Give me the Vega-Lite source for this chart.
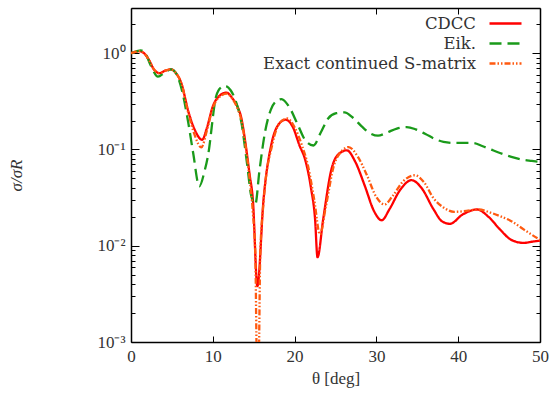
{
  "$schema": "https://vega.github.io/schema/vega-lite/v6.json",
  "width": 409,
  "height": 334,
  "autosize": "none",
  "padding": {"left": 131, "top": 8, "right": 14, "bottom": 51},
  "background": "white",
  "config": {"view": {"stroke": null}},
  "datasets": {
    "curves": [
      {"s":"CDCC","x":0,"y":1.0},{"s":"CDCC","x":0.5,"y":1.03},{"s":"CDCC","x":1,"y":1.05},{"s":"CDCC","x":1.6,"y":1.0},{"s":"CDCC","x":2.2,"y":0.85},{"s":"CDCC","x":2.8,"y":0.68},{"s":"CDCC","x":3.5,"y":0.62},{"s":"CDCC","x":4.2,"y":0.66},{"s":"CDCC","x":4.9,"y":0.68},{"s":"CDCC","x":5.5,"y":0.62},{"s":"CDCC","x":6.15,"y":0.49},{"s":"CDCC","x":7.0,"y":0.25},{"s":"CDCC","x":7.8,"y":0.16},{"s":"CDCC","x":8.7,"y":0.126},{"s":"CDCC","x":9.3,"y":0.17},{"s":"CDCC","x":10.0,"y":0.28},{"s":"CDCC","x":10.8,"y":0.36},{"s":"CDCC","x":11.65,"y":0.39},{"s":"CDCC","x":12.4,"y":0.34},{"s":"CDCC","x":13.0,"y":0.28},{"s":"CDCC","x":13.5,"y":0.21},{"s":"CDCC","x":14.0,"y":0.115},{"s":"CDCC","x":14.5,"y":0.055},{"s":"CDCC","x":14.9,"y":0.03},{"s":"CDCC","x":15.45,"y":0.0038},{"s":"CDCC","x":16.2,"y":0.03},{"s":"CDCC","x":17.2,"y":0.117},{"s":"CDCC","x":18.0,"y":0.18},{"s":"CDCC","x":18.9,"y":0.204},{"s":"CDCC","x":19.8,"y":0.17},{"s":"CDCC","x":20.6,"y":0.11},{"s":"CDCC","x":21.3,"y":0.078},{"s":"CDCC","x":22.0,"y":0.04},{"s":"CDCC","x":22.5,"y":0.019},{"s":"CDCC","x":22.8,"y":0.0076},{"s":"CDCC","x":23.5,"y":0.019},{"s":"CDCC","x":24.5,"y":0.062},{"s":"CDCC","x":25.4,"y":0.09},{"s":"CDCC","x":26.4,"y":0.098},{"s":"CDCC","x":27.4,"y":0.075},{"s":"CDCC","x":28.6,"y":0.0415},{"s":"CDCC","x":29.7,"y":0.023},{"s":"CDCC","x":30.65,"y":0.0184},{"s":"CDCC","x":31.6,"y":0.024},{"s":"CDCC","x":32.9,"y":0.038},{"s":"CDCC","x":34.3,"y":0.048},{"s":"CDCC","x":35.5,"y":0.04},{"s":"CDCC","x":37.0,"y":0.0238},{"s":"CDCC","x":38.0,"y":0.018},{"s":"CDCC","x":39.0,"y":0.0169},{"s":"CDCC","x":40.5,"y":0.021},{"s":"CDCC","x":42.3,"y":0.0238},{"s":"CDCC","x":43.7,"y":0.02},{"s":"CDCC","x":45.1,"y":0.0148},{"s":"CDCC","x":46.5,"y":0.0115},{"s":"CDCC","x":48.0,"y":0.0107},{"s":"CDCC","x":49.0,"y":0.011},{"s":"CDCC","x":50,"y":0.0113},
      {"s":"Eik.","x":0,"y":1.0},{"s":"Eik.","x":0.6,"y":1.04},{"s":"Eik.","x":1.2,"y":1.07},{"s":"Eik.","x":1.8,"y":0.98},{"s":"Eik.","x":2.4,"y":0.75},{"s":"Eik.","x":3.3,"y":0.57},{"s":"Eik.","x":4.1,"y":0.63},{"s":"Eik.","x":4.9,"y":0.68},{"s":"Eik.","x":5.5,"y":0.62},{"s":"Eik.","x":6.2,"y":0.42},{"s":"Eik.","x":7.0,"y":0.19},{"s":"Eik.","x":7.6,"y":0.092},{"s":"Eik.","x":8.35,"y":0.0415},{"s":"Eik.","x":9.0,"y":0.06},{"s":"Eik.","x":9.4,"y":0.085},{"s":"Eik.","x":10.4,"y":0.355},{"s":"Eik.","x":11.0,"y":0.44},{"s":"Eik.","x":11.5,"y":0.458},{"s":"Eik.","x":12.2,"y":0.41},{"s":"Eik.","x":12.8,"y":0.32},{"s":"Eik.","x":13.5,"y":0.19},{"s":"Eik.","x":14.2,"y":0.07},{"s":"Eik.","x":14.7,"y":0.033},{"s":"Eik.","x":15.2,"y":0.027},{"s":"Eik.","x":15.7,"y":0.06},{"s":"Eik.","x":16.4,"y":0.154},{"s":"Eik.","x":17.1,"y":0.26},{"s":"Eik.","x":17.8,"y":0.32},{"s":"Eik.","x":18.4,"y":0.334},{"s":"Eik.","x":19.3,"y":0.28},{"s":"Eik.","x":20.4,"y":0.18},{"s":"Eik.","x":21.3,"y":0.125},{"s":"Eik.","x":22.3,"y":0.11},{"s":"Eik.","x":23.2,"y":0.15},{"s":"Eik.","x":24.1,"y":0.21},{"s":"Eik.","x":25.1,"y":0.238},{"s":"Eik.","x":26.1,"y":0.243},{"s":"Eik.","x":27.1,"y":0.215},{"s":"Eik.","x":28.2,"y":0.174},{"s":"Eik.","x":29.2,"y":0.148},{"s":"Eik.","x":30.2,"y":0.139},{"s":"Eik.","x":31.3,"y":0.15},{"s":"Eik.","x":32.5,"y":0.165},{"s":"Eik.","x":33.7,"y":0.171},{"s":"Eik.","x":34.8,"y":0.162},{"s":"Eik.","x":36.0,"y":0.145},{"s":"Eik.","x":37.2,"y":0.128},{"s":"Eik.","x":38.2,"y":0.12},{"s":"Eik.","x":39.5,"y":0.117},{"s":"Eik.","x":40.5,"y":0.117},{"s":"Eik.","x":41.8,"y":0.117},{"s":"Eik.","x":43.0,"y":0.108},{"s":"Eik.","x":44.0,"y":0.1},{"s":"Eik.","x":45.1,"y":0.092},{"s":"Eik.","x":46.5,"y":0.084},{"s":"Eik.","x":48.0,"y":0.078},{"s":"Eik.","x":49.0,"y":0.076},{"s":"Eik.","x":50,"y":0.074},
      {"s":"Exact continued S-matrix","x":0,"y":1.0},{"s":"Exact continued S-matrix","x":0.5,"y":1.03},{"s":"Exact continued S-matrix","x":1,"y":1.05},{"s":"Exact continued S-matrix","x":1.6,"y":1.0},{"s":"Exact continued S-matrix","x":2.2,"y":0.85},{"s":"Exact continued S-matrix","x":2.8,"y":0.68},{"s":"Exact continued S-matrix","x":3.5,"y":0.62},{"s":"Exact continued S-matrix","x":4.2,"y":0.66},{"s":"Exact continued S-matrix","x":4.9,"y":0.68},{"s":"Exact continued S-matrix","x":5.5,"y":0.62},{"s":"Exact continued S-matrix","x":6.15,"y":0.49},{"s":"Exact continued S-matrix","x":7.0,"y":0.24},{"s":"Exact continued S-matrix","x":7.8,"y":0.14},{"s":"Exact continued S-matrix","x":8.6,"y":0.105},{"s":"Exact continued S-matrix","x":9.3,"y":0.16},{"s":"Exact continued S-matrix","x":10.0,"y":0.27},{"s":"Exact continued S-matrix","x":10.8,"y":0.35},{"s":"Exact continued S-matrix","x":11.7,"y":0.38},{"s":"Exact continued S-matrix","x":12.4,"y":0.335},{"s":"Exact continued S-matrix","x":13.0,"y":0.27},{"s":"Exact continued S-matrix","x":13.5,"y":0.2},{"s":"Exact continued S-matrix","x":14.0,"y":0.11},{"s":"Exact continued S-matrix","x":14.5,"y":0.05},{"s":"Exact continued S-matrix","x":14.9,"y":0.022},{"s":"Exact continued S-matrix","x":15.2,"y":0.008},{"s":"Exact continued S-matrix","x":15.4,"y":0.0006},{"s":"Exact continued S-matrix","x":15.6,"y":0.0006},{"s":"Exact continued S-matrix","x":15.8,"y":0.008},{"s":"Exact continued S-matrix","x":16.2,"y":0.028},{"s":"Exact continued S-matrix","x":17.3,"y":0.115},{"s":"Exact continued S-matrix","x":18.2,"y":0.19},{"s":"Exact continued S-matrix","x":19.1,"y":0.21},{"s":"Exact continued S-matrix","x":20.0,"y":0.17},{"s":"Exact continued S-matrix","x":20.9,"y":0.11},{"s":"Exact continued S-matrix","x":21.6,"y":0.07},{"s":"Exact continued S-matrix","x":22.4,"y":0.03},{"s":"Exact continued S-matrix","x":23.1,"y":0.0131},{"s":"Exact continued S-matrix","x":23.8,"y":0.025},{"s":"Exact continued S-matrix","x":24.8,"y":0.068},{"s":"Exact continued S-matrix","x":25.7,"y":0.095},{"s":"Exact continued S-matrix","x":26.6,"y":0.106},{"s":"Exact continued S-matrix","x":27.7,"y":0.085},{"s":"Exact continued S-matrix","x":28.8,"y":0.055},{"s":"Exact continued S-matrix","x":30.0,"y":0.032},{"s":"Exact continued S-matrix","x":31.0,"y":0.0268},{"s":"Exact continued S-matrix","x":32.0,"y":0.033},{"s":"Exact continued S-matrix","x":33.3,"y":0.047},{"s":"Exact continued S-matrix","x":34.7,"y":0.054},{"s":"Exact continued S-matrix","x":35.8,"y":0.046},{"s":"Exact continued S-matrix","x":37.0,"y":0.031},{"s":"Exact continued S-matrix","x":38.2,"y":0.025},{"s":"Exact continued S-matrix","x":39.5,"y":0.0225},{"s":"Exact continued S-matrix","x":41.0,"y":0.023},{"s":"Exact continued S-matrix","x":42.5,"y":0.0238},{"s":"Exact continued S-matrix","x":44.0,"y":0.022},{"s":"Exact continued S-matrix","x":45.1,"y":0.0203},{"s":"Exact continued S-matrix","x":46.5,"y":0.018},{"s":"Exact continued S-matrix","x":48.0,"y":0.0148},{"s":"Exact continued S-matrix","x":49.0,"y":0.013},{"s":"Exact continued S-matrix","x":50,"y":0.0115}
    ]
  },
  "data": {"name": "curves"},
  "layer": [
    {
      "mark": {"type": "line", "interpolate": "monotone", "clip": true, "strokeWidth": 2.3},
      "encoding": {
        "x": {"field": "x", "type": "quantitative", "scale": {"domain": [0, 50], "nice": false, "zero": false},
          "axis": {"orient": "bottom", "values": [0, 10, 20, 30, 40, 50], "title": "θ [deg]", "grid": false,
            "domainColor": "black", "domainWidth": 1.5, "tickColor": "black", "tickSize": -6, "tickWidth": 1,
            "labelPadding": 12, "labelFlush": false, "labelFont": "Liberation Serif", "labelFontSize": 17, "labelColor": "#333",
            "titleFont": "Liberation Serif", "titleFontSize": 17, "titleFontWeight": "normal", "titleColor": "#333", "titlePadding": 6}},
        "y": {"field": "y", "type": "quantitative", "scale": {"type": "log", "domain": [0.001, 2.95], "nice": false},
          "axis": {"orient": "left", "values": [0.001,0.002,0.003,0.004,0.005,0.006,0.007,0.008,0.009,0.01,0.02,0.03,0.04,0.05,0.06,0.07,0.08,0.09,0.1,0.2,0.3,0.4,0.5,0.6,0.7,0.8,0.9,1,2],
            "labelExpr": "datum.value==1 ? '10⁰' : datum.value==0.1 ? '10⁻¹' : datum.value==0.01 ? '10⁻²' : datum.value==0.001 ? '10⁻³' : ''",
            "title": "σ/σR", "grid": false, "labelOverlap": false, "labelFlush": false,
            "domainColor": "black", "domainWidth": 1.5, "tickColor": "black", "tickWidth": 1,
            "tickSize": {"condition": {"test": "datum.value==1||datum.value==0.1||datum.value==0.01||datum.value==0.001", "value": -8}, "value": -4},
            "labelPadding": 14, "labelFont": "Liberation Serif", "labelFontSize": 17, "labelColor": "#333",
            "titleFont": "Liberation Serif", "titleFontSize": 17, "titleFontWeight": "normal", "titleFontStyle": "italic", "titleColor": "#333", "titlePadding": 71}},
        "color": {"field": "s", "type": "nominal",
          "scale": {"domain": ["CDCC", "Eik.", "Exact continued S-matrix"], "range": ["#ff0000", "#1a9a1a", "#ff5a10"]},
          "legend": {"title": null, "orient": "none", "legendX": 365, "legendY": 6, "padding": 0, "symbolType": "M-2,0L2,0", "symbolSize": 256, "symbolStrokeWidth": 2.3, "symbolFillColor": "transparent",
            "labelAlign": "right", "labelOffset": -39, "labelFont": "DejaVu Serif", "labelFontSize": 16.5, "labelColor": "#333", "rowPadding": 2, "labelLimit": 400}},
        "strokeDash": {"field": "s", "type": "nominal",
          "scale": {"domain": ["CDCC", "Eik.", "Exact continued S-matrix"], "range": [[1, 0], [12, 6], [6, 2, 1.5, 2, 1.5, 2]]},
          "legend": {"title": null, "orient": "none", "legendX": 365, "legendY": 6, "padding": 0, "symbolType": "M-2,0L2,0", "symbolSize": 256, "symbolStrokeWidth": 2.3, "symbolFillColor": "transparent",
            "labelAlign": "right", "labelOffset": -39, "labelFont": "DejaVu Serif", "labelFontSize": 16.5, "labelColor": "#333", "rowPadding": 2, "labelLimit": 400}}
      }
    },
    {
      "mark": {"type": "line", "opacity": 0},
      "encoding": {
        "x": {"field": "x", "type": "quantitative",
          "axis": {"orient": "top", "values": [0, 10, 20, 30, 40, 50], "labels": false, "title": null, "grid": false,
            "domainColor": "black", "domainWidth": 1.5, "tickColor": "black", "tickSize": -6, "tickWidth": 1}},
        "y": {"field": "y", "type": "quantitative",
          "axis": {"orient": "right", "values": [0.001,0.002,0.003,0.004,0.005,0.006,0.007,0.008,0.009,0.01,0.02,0.03,0.04,0.05,0.06,0.07,0.08,0.09,0.1,0.2,0.3,0.4,0.5,0.6,0.7,0.8,0.9,1,2],
            "labels": false, "title": null, "grid": false,
            "domainColor": "black", "domainWidth": 1.5, "tickColor": "black", "tickWidth": 1,
            "tickSize": {"condition": {"test": "datum.value==1||datum.value==0.1||datum.value==0.01||datum.value==0.001", "value": -8}, "value": -4}}}
      }
    }
  ],
  "resolve": {"axis": {"x": "independent", "y": "independent"}}
}
